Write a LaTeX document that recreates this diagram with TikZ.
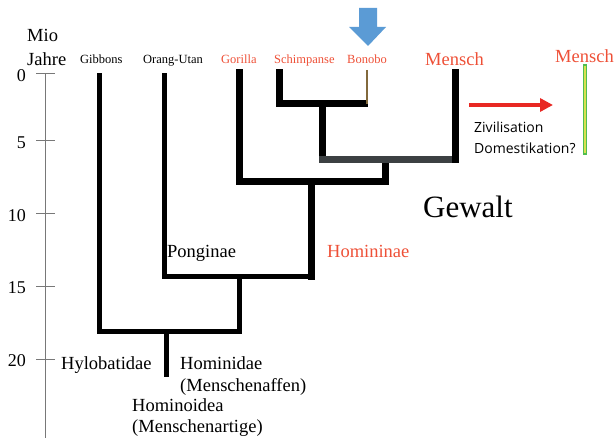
\documentclass[tikz,border=0pt]{standalone}
\usepackage{fontspec}
\setmainfont{Liberation Serif}
\newfontfamily\sansf{Open Sans}
\usetikzlibrary{arrows.meta}
\definecolor{lblred}{RGB}{238,80,55}
\definecolor{arrred}{RGB}{232,40,35}
\definecolor{arrblue}{RGB}{91,155,213}
\definecolor{bonbrown}{RGB}{130,105,60}
\definecolor{axgray}{RGB}{120,120,120}
\definecolor{bargreen}{RGB}{80,190,80}
\definecolor{baryellow}{RGB}{215,225,80}
\definecolor{pangray}{RGB}{60,64,66}
\tikzset{
  thinbr/.style={line width=5pt, line cap=rect, line join=miter},
  thickbr/.style={line width=7pt, line cap=rect, line join=miter},
  small/.style={font=\fontsize{12.5}{14}\selectfont, inner sep=0pt, anchor=base west},
  big/.style={font=\fontsize{18.5}{20}\selectfont, inner sep=0pt, anchor=base west},
  num/.style={font=\fontsize{18}{20}\selectfont, inner sep=0pt, anchor=east},
}
\begin{document}
\begin{tikzpicture}[x=1pt,y=-1pt]
\useasboundingbox (0,0) rectangle (615,438);
% axis
\coordinate (axtop) at (45,74);
\coordinate (axbot) at (45,438);
\draw[axgray, line width=1pt] (axtop) -- (axbot);
\foreach \v/\yy in {0/74,5/141,10/214,15/286,20/359}{
  \draw[axgray, line width=1pt] (36,\yy) -- (55,\yy);
  \node[num] (n\v) at (26,\yy+2) {\v};
}
\node[big] (mio) at (27,42) {Mio};
\node[big] (jahre) at (27,66) {Jahre};
% leaf labels
\node[small] (gib) at (80,64) {Gibbons};
\node[small] (ora) at (143,64) {Orang-Utan};
\node[small, text=lblred] (gor) at (221,64) {Gorilla};
\node[small, text=lblred] (sch) at (274,64) {Schimpanse};
\node[small, text=lblred] (bon) at (347,64) {Bonobo};
\node[big, text=lblred] (men) at (425,66) {Mensch};
\node[big, text=lblred] (men2) at (555,63) {Mensch};
% blue arrow
\fill[arrblue] (359,8) -- (377,8) -- (377,27) -- (386,27) -- (368,46) -- (349,27) -- (359,27) -- cycle;
% tree coordinates
\coordinate (gibT) at (99,76);
\coordinate (gibB) at (99,331);
\coordinate (oraT) at (164,76);
\coordinate (oraB) at (164,276);
\coordinate (gorT) at (239,73);
\coordinate (gorB) at (239,182);
\coordinate (schT) at (279,73);
\coordinate (schB) at (279,104);
\coordinate (panJ) at (322,104);
\coordinate (bonJ) at (364,104);
\coordinate (bonT) at (367,70);
\coordinate (bonB) at (367,104);
\coordinate (panB) at (322,160);
\coordinate (menB) at (455,160);
\coordinate (menT) at (455,73);
\coordinate (humJ) at (385,160);
\coordinate (humB) at (385,182);
\coordinate (hmnJ) at (311,182);
\coordinate (hmnB) at (311,276);
\coordinate (hidJ) at (239,276);
\coordinate (hidB) at (239,331);
\coordinate (hoiJ) at (166,331);
\coordinate (hoiB) at (166,374);
% branches
\draw[thinbr] (gibT) -- (gibB) -- (hidB);
\draw[thinbr] (oraT) -- (oraB) -- (hmnB);
\draw[thinbr] (hidJ) -- (hidB);
\draw[thinbr] (hoiJ) -- (hoiB);
\draw[thickbr] (gorT) -- (gorB) -- (humB);
\draw[thickbr] (hmnJ) -- (hmnB);
\draw[thickbr] (humJ) -- (humB);
\draw[thickbr] (schT) -- (schB) -- (bonJ);
\draw[thickbr] (panJ) -- (panB);
\draw[thickbr, pangray] (panB) -- (menB);
\draw[thickbr] (menB) -- (menT);
\draw[bonbrown, line width=1.5pt] (bonT) -- (bonB);
% red arrow
\coordinate (ra1) at (469,105);
\coordinate (ra2) at (553,105);
\draw[arrred, line width=4pt, -{Triangle[length=13pt,width=13pt]}] (ra1) -- (ra2);
\node[font=\sansf\fontsize{14}{16}\selectfont, inner sep=0pt, anchor=base west] (ziv) at (474,133) {Zivilisation};
\node[font=\sansf\fontsize{14}{16}\selectfont, inner sep=0pt, anchor=base west] (dom) at (474,154) {Domestikation?};
% green bar
\draw[bargreen, line width=1.3pt, fill=baryellow] (583.7,65) rectangle (586.5,154);
% clade labels
\node[font=\fontsize{31}{34}\selectfont, inner sep=0pt, anchor=base west] (gew) at (423,218) {Gewalt};
\node[big, text=lblred] (hmn) at (327,257) {Homininae};
\node[big] (pon) at (167,257) {Ponginae};
\node[big] (hyl) at (61,369) {Hylobatidae};
\node[big] (hid) at (180,369) {Hominidae};
\node[big] (hid2) at (180,391) {(Menschenaffen)};
\node[big] (hoi) at (132,411) {Hominoidea};
\node[big] (hoi2) at (132,432) {(Menschenartige)};
\end{tikzpicture}
\end{document}
